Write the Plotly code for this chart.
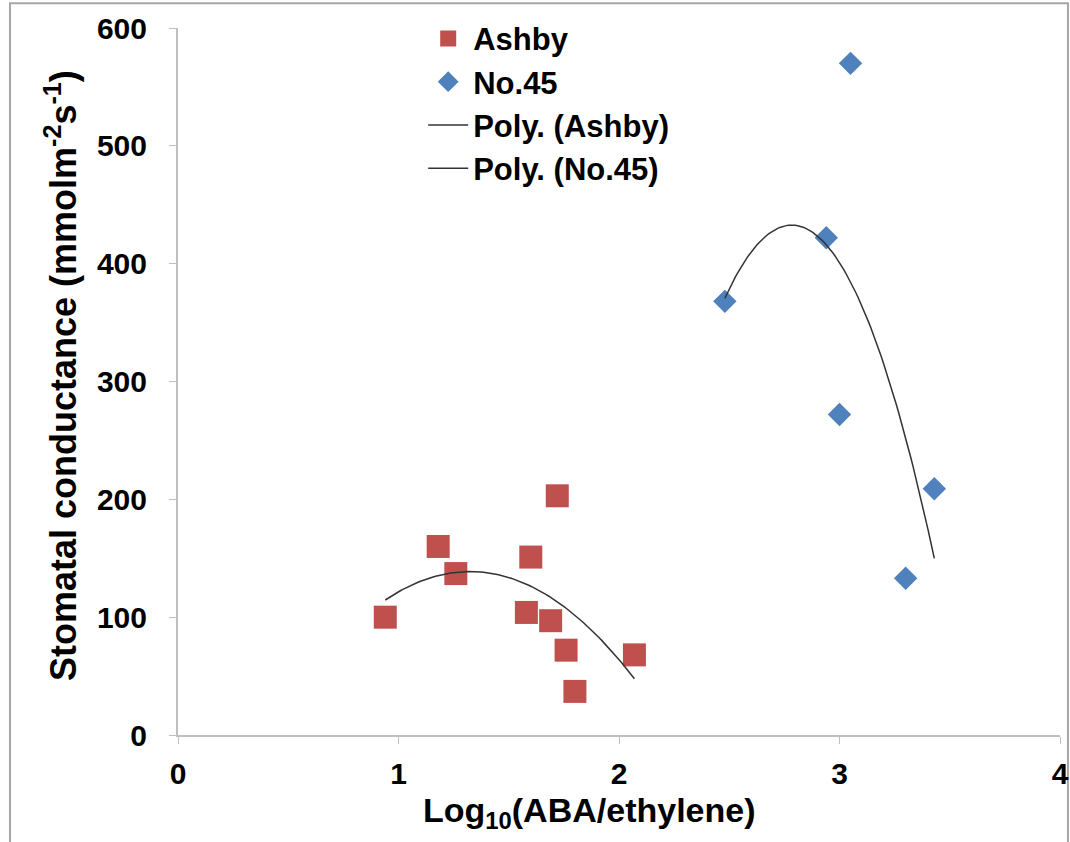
import numpy as np
import plotly.graph_objects as go

ashby_x = [0.94, 1.18, 1.26, 1.60, 1.72, 1.58, 1.69, 1.76, 1.80, 2.07]
ashby_y = [100, 160, 137, 151, 203, 104, 97, 72, 37, 68]
no45_x = [2.48, 2.94, 3.05, 3.00, 3.43, 3.30]
no45_y = [368, 422, 570, 272, 209, 133]

x_ticks = [0, 1, 2, 3, 4]
y_ticks = [0, 100, 200, 300, 400, 500, 600]

font = "Liberation Sans, Arial, sans-serif"

def poly_line(xs, ys):
    c = np.polyfit(xs, ys, 2)
    xx = np.linspace(min(xs), max(xs), 100)
    return xx, np.polyval(c, xx)

fig = go.Figure()
fig.add_trace(go.Scatter(x=ashby_x, y=ashby_y, mode="markers", name="<b>Ashby</b>",
                         marker=dict(symbol="square", size=23, color="#C0504D")))
fig.add_trace(go.Scatter(x=no45_x, y=no45_y, mode="markers", name="<b>No.45</b>",
                         marker=dict(symbol="diamond", size=18, color="#4F81BD")))
ax, ay = poly_line(ashby_x, ashby_y)
fig.add_trace(go.Scatter(x=ax, y=ay, mode="lines", name="<b>Poly. (Ashby)</b>",
                         line=dict(color="#333333", width=1.5)))
nx, ny = poly_line(no45_x, no45_y)
fig.add_trace(go.Scatter(x=nx, y=ny, mode="lines", name="<b>Poly. (No.45)</b>",
                         line=dict(color="#333333", width=1.5)))

fig.update_layout(
    width=1070, height=842,
    margin=dict(l=178, r=10, t=28, b=107, autoexpand=False),
    paper_bgcolor="white", plot_bgcolor="white",
    font=dict(family=font, size=30, color="black"),
    showlegend=True,
    legend=dict(x=0.278, y=1.023, xanchor="left", yanchor="top",
                bgcolor="rgba(0,0,0,0)", font=dict(family=font, size=31, color="black"),
                tracegroupgap=0, itemwidth=40),
    xaxis=dict(range=[0, 4], tickvals=x_ticks, ticktext=[f"<b>{v}</b>" for v in x_ticks],
               showgrid=False, zeroline=False, automargin=False,
               showline=True, linecolor="#BFBFBF", linewidth=2,
               ticks="outside", ticklen=7, tickcolor="#BFBFBF", ticklabelstandoff=4,
               tickfont=dict(family=font, size=30, color="black")),
    yaxis=dict(range=[0, 600], tickvals=y_ticks, ticktext=[f"<b>{v}</b>" for v in y_ticks],
               showgrid=False, zeroline=False, automargin=False,
               showline=True, linecolor="#BFBFBF", linewidth=2,
               ticks="outside", ticklen=7, tickcolor="#BFBFBF", ticklabelstandoff=16,
               tickfont=dict(family=font, size=30, color="black")),
)
fig.add_annotation(text="<b>Log<sub>10</sub>(ABA/ethylene)</b>", xref="paper", yref="paper",
                   x=0.467, y=-0.109, xanchor="center", yanchor="middle", showarrow=False,
                   font=dict(family=font, size=34, color="black"))
fig.add_annotation(text="<b>Stomatal conductance (mmolm<sup>-2</sup>s<sup>-1</sup>)</b>",
                   xref="paper", yref="paper", x=-0.1327, y=0.509, textangle=-90,
                   xanchor="center", yanchor="middle", showarrow=False,
                   font=dict(family=font, size=36, color="black"))
fig.add_shape(type="rect", xref="paper", yref="paper", x0=-0.1905, y0=-0.16, x1=1.009, y1=1.035,
              line=dict(color="#A6A6A6", width=2), layer="below")

fig.write_html("out.html")
